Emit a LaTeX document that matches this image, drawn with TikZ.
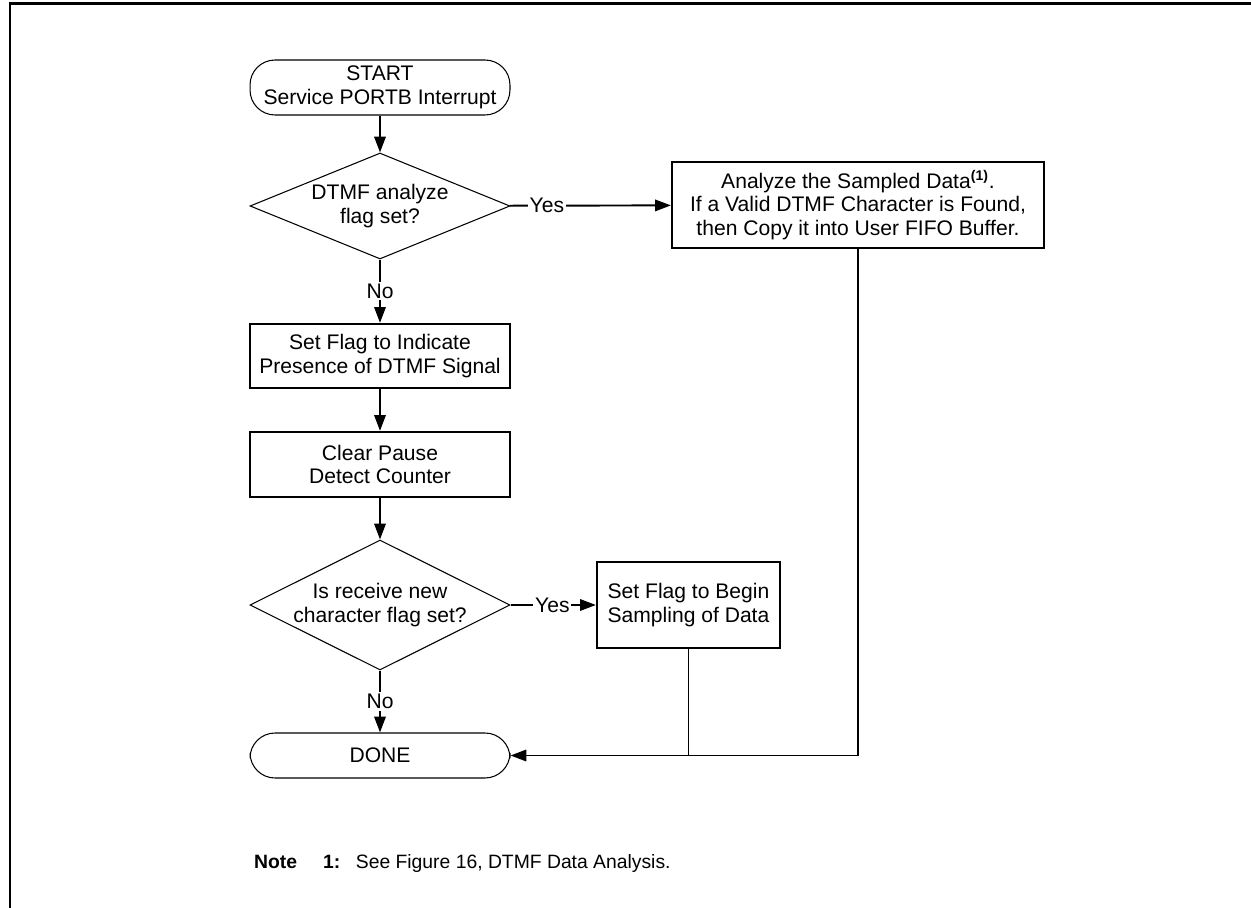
\documentclass[tikz,border=0pt]{standalone}
\usepackage{fontspec}
\setmainfont{Liberation Sans}
\usetikzlibrary{calc,positioning,arrows.meta,shapes.geometric}

\tikzset{
  flowbox/.style={draw,rectangle,line width=1.3pt,minimum width=5.2cm,align=center,inner sep=2pt},
  terminal/.style={draw,rectangle,rounded corners=0.5cm,line width=0.6pt,minimum width=5.2cm,align=center},
  decision/.style={draw,diamond,line width=0.6pt,minimum width=5.2cm,inner sep=0pt},
  link/.style={line width=1.1pt,-{Triangle[length=9pt,width=6.5pt]}},
  answer/.style={fill=white,inner sep=1pt},
}

\begin{document}
\begin{tikzpicture}[x=0.02cm,y=-0.02cm,font=\fontsize{12}{13.5}\selectfont]

  \useasboundingbox (0,0) rectangle (1251,908);
  \draw [line width=1.7pt] (10,908) -- (10,4) -- (1251,4); % frame

  \node [terminal,minimum height=1.1cm] at(380,87.5) (start) {START\\Service PORTB Interrupt};
  \node [decision,minimum height=2.12cm,label={[align=center]center:DTMF analyze\\flag set?}] at(380,206) (dtmf_set) {};
  \node [flowbox,minimum height=1.28cm] at(380,356) (indicate) {Set Flag to Indicate\\Presence of DTMF Signal};
  \node [flowbox,minimum height=1.3cm] at(380,464.5) (clear_pause) {Clear Pause\\Detect Counter};
  \node [decision,minimum height=2.6cm,label={[align=center]center:Is receive new\\character flag set?}] at(380,605) (new_char) {};
  \node [terminal,minimum height=0.9cm] at(380,755.5) (done) {DONE};

  \node [flowbox,minimum width=7.44cm,minimum height=1.72cm] at(858,205) (analyze)
    {Analyze the Sampled Data\textsuperscript{\textbf{(1)}}.\\If a Valid DTMF Character is Found,\\then Copy it into User FIFO Buffer.};
  \node [flowbox,minimum width=3.66cm,minimum height=1.72cm] at(688.5,605) (sample) {Set Flag to Begin\\Sampling of Data};

  \draw [link] (start) -- (dtmf_set);
  \draw [link] (dtmf_set) -- node [answer] {No} (indicate);
  \draw [link] (dtmf_set) -- node [answer,pos=0.23] {Yes} (analyze);
  \draw [link] (indicate) -- (clear_pause);
  \draw [link] (clear_pause) -- (new_char);
  \draw [link] (new_char) -- node [answer] {No} (done);
  \draw [link] (new_char) -- node [answer,pos=0.49] {Yes} (sample);

  % both branches come back to DONE
  \draw [line width=1.1pt] (sample) -- (sample |- done);
  \draw [link] (analyze) |- (done);

  \node [anchor=west,font=\fontsize{11}{13}\selectfont] at(248,863) (note)
    {\textbf{Note}\hspace{1.35em}\textbf{1:}\hspace{0.8em}See Figure 16, DTMF Data Analysis.};

\end{tikzpicture}
\end{document}
